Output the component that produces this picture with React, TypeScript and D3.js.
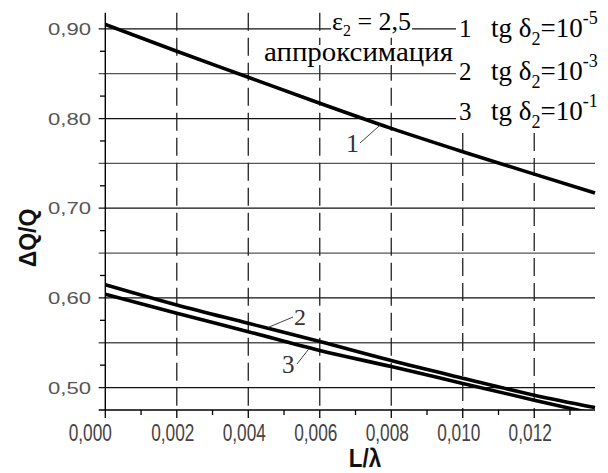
import React, { useLayoutEffect, useRef, useState } from "react";
import * as d3 from "d3";

// ---- data ----
const L_VALUES = [0, 0.002, 0.004, 0.006, 0.008, 0.01, 0.012, 0.0137];
const CURVE_1 = [0.905, 0.875, 0.846, 0.817, 0.789, 0.763, 0.738, 0.717];
const CURVE_2 = [0.6148, 0.5922, 0.5717, 0.5513, 0.5301, 0.5105, 0.4915, 0.4777];
const CURVE_3 = [0.604, 0.5828, 0.5623, 0.5414, 0.5234, 0.5046, 0.486, 0.4705];
const X_TICKS = [0, 0.002, 0.004, 0.006, 0.008, 0.01, 0.012];
const X_MINOR = [0.001, 0.003, 0.005, 0.007, 0.009, 0.011, 0.013];
const Y_LABELS = [0.5, 0.6, 0.7, 0.8, 0.9];
const Y_GRID = [0.5, 0.55, 0.6, 0.65, 0.7, 0.75, 0.8, 0.85, 0.9];
const Y_MINOR = [0.525, 0.575, 0.625, 0.675, 0.725, 0.775, 0.825, 0.875];
const LEGEND_NUM = ["1", "2", "3"];
const LEGEND_EXP = ["-5", "-3", "-1"];
const EPS_TEXT = "2,5";
const APPROX_TEXT = "аппроксимация";

const W = 608;
const H = 473;
const X0 = 105.3;
const X1 = 595;
const YB = 410;
const YT = 12.7;

const x = d3.scaleLinear().domain([0, 0.0137]).range([X0, X1]);
const y = d3.scaleLinear().domain([0.475, 0.918]).range([YB, YT]);

const fmt = (v: number, d: number) => v.toFixed(d).replace(".", ",");

function interp(vals: number[], L: number) {
  const f = d3.scaleLinear().domain(L_VALUES).range(vals);
  return f(L);
}

function BgText({ children, pad = 1, trimTop = 0, trimBottom = 0, ...props }: any) {
  const ref = useRef<SVGTextElement>(null);
  const [box, setBox] = useState<any>(null);
  useLayoutEffect(() => {
    if (ref.current) {
      const b = ref.current.getBBox();
      setBox({ x: b.x, y: b.y, w: b.width, h: b.height });
    }
  }, []);
  return (
    <g>
      {box && (
        <rect
          x={box.x - pad}
          y={box.y + trimTop}
          width={box.w + 2 * pad}
          height={Math.max(0, box.h - trimTop - trimBottom)}
          fill="#fff"
        />
      )}
      <text ref={ref} {...props}>
        {children}
      </text>
    </g>
  );
}

export default function App() {
  const line = d3
    .line<number>()
    .x((_, i) => x(L_VALUES[i]))
    .y((d) => y(d))
    .curve(d3.curveMonotoneX);

  const serif = "'Liberation Serif', 'Times New Roman', serif";
  const sans = "'Liberation Sans', Arial, sans-serif";
  const legendRows = [37, 80, 120];

  return (
    <svg width={W} height={H} style={{ display: "block", position: "absolute", left: 0, top: 0, background: "#fff" }}>
      <defs>
        <clipPath id="plot">
          <rect x={X0} y={YT} width={X1 - X0 + 2} height={YB - YT} />
        </clipPath>
      </defs>
      <rect x={0} y={0} width={W} height={H} fill="#fff" />

      {/* horizontal grid */}
      {Y_GRID.map((v, i) => {
        const major = Math.abs(Math.round(v * 10) - v * 10) < 1e-6;
        return (
          <line
            key={"hg" + i}
            x1={98.7}
            x2={v >= 0.799 ? 456 : X1}
            y1={y(v)}
            y2={y(v)}
            stroke={major ? "#111" : "#555"}
            strokeWidth={1.3}
          />
        );
      })}

      {/* vertical dashed grid */}
      {X_TICKS.filter((v) => v > 0).map((v, i) => (
        <line
          key={"vg" + i}
          x1={x(v)}
          x2={x(v)}
          y1={v >= 0.0095 ? 133 : YT}
          y2={YB}
          stroke="#222"
          strokeWidth={1.3}
          strokeDasharray="18,7"
        />
      ))}

      {/* axes */}
      <line x1={X0} x2={X0} y1={YT} y2={YB} stroke="#000" strokeWidth={1.4} />
      <line x1={98.7} x2={X1} y1={YB} y2={YB} stroke="#000" strokeWidth={1.4} />
      {X_TICKS.map((v, i) => (
        <line key={"xt" + i} x1={x(v)} x2={x(v)} y1={YB} y2={YB + 8} stroke="#000" strokeWidth={1.3} />
      ))}
      {X_MINOR.map((v, i) => (
        <line key={"xm" + i} x1={x(v)} x2={x(v)} y1={YB} y2={YB + 5} stroke="#000" strokeWidth={1.3} />
      ))}
      {Y_MINOR.map((v, i) => (
        <line key={"ym" + i} x1={100} x2={X0} y1={y(v)} y2={y(v)} stroke="#000" strokeWidth={1.3} />
      ))}

      {/* tick labels */}
      {X_TICKS.map((v, i) => (
        <text
          key={"xl" + i}
          transform={`translate(${x(v) - (i === 0 ? 15 : 4)},${441}) scale(0.72,1)`}
          textAnchor="middle"
          fontFamily={sans}
          fontSize={24}
          fill="#444"
        >
          {fmt(v, 3)}
        </text>
      ))}
      {Y_LABELS.map((v, i) => (
        <text
          key={"yl" + i}
          transform={`translate(${91},${y(v) + 6}) scale(1.38,1)`}
          textAnchor="end"
          fontFamily={sans}
          fontSize={16}
          fill="#555"
        >
          {fmt(v, 2)}
        </text>
      ))}

      {/* axis titles */}
      <text
        transform={`translate(${36},${238}) rotate(-90)`}
        textAnchor="middle"
        fontFamily={sans}
        fontWeight="bold"
        fontSize={23}
        fill="#111"
      >
        ΔQ/Q
      </text>
      <text
        transform={`translate(${365},${467}) scale(0.9,1)`}
        textAnchor="middle"
        fontFamily={sans}
        fontWeight="bold"
        fontSize={25}
        fill="#111"
      >
        L/λ
      </text>

      {/* curves */}
      <g clipPath="url(#plot)" fill="none" stroke="#000" strokeWidth={3.6}>
        <path d={line(CURVE_1) || ""} />
        <path d={line(CURVE_2) || ""} />
        <path d={line(CURVE_3) || ""} />
      </g>

      {/* curve annotations */}
      <line x1={360} y1={143} x2={x(0.00768)} y2={y(interp(CURVE_1, 0.00768)) + 1} stroke="#444" strokeWidth={1} />
      <text x={346} y={152} fontFamily={serif} fontSize={26} fill="#333">1</text>
      <line x1={x(0.00456)} y1={y(interp(CURVE_2, 0.00456)) - 1} x2={293} y2={317} stroke="#444" strokeWidth={1} />
      <text x={294} y={325} fontFamily={serif} fontSize={24} fill="#333">2</text>
      <line x1={297} y1={364} x2={x(0.0057)} y2={y(interp(CURVE_3, 0.0057)) + 1} stroke="#444" strokeWidth={1} />
      <text x={282} y={373} fontFamily={serif} fontSize={25} fill="#333">3</text>

      {/* legend */}
      <rect x={457} y={0} width={W - 457} height={131} fill="#fff" />
      <BgText x={264} y={61} trimTop={9} trimBottom={2} fontFamily={serif} fontSize={28} fill="#000" textLength={189} lengthAdjust="spacingAndGlyphs">
        {APPROX_TEXT}
      </BgText>
      <BgText x={332} y={30} trimBottom={3} fontFamily={serif} fontSize={26} fill="#000">
        ε<tspan fontSize={16} dy={6}>2</tspan>
        <tspan dy={-6}>{" = " + EPS_TEXT}</tspan>
      </BgText>
      {LEGEND_NUM.map((n, i) => (
        <g key={"lg" + i}>
          <text x={459} y={legendRows[i]} fontFamily={serif} fontSize={25} fill="#000">
            {n}
          </text>
          <text x={491} y={legendRows[i]} fontFamily={serif} fontSize={27} fill="#000">
            tg δ<tspan fontSize={18} dy={8}>2</tspan>
            <tspan dy={-8}>=10</tspan>
            <tspan fontSize={18} dy={-13}>{LEGEND_EXP[i]}</tspan>
          </text>
        </g>
      ))}
    </svg>
  );
}
